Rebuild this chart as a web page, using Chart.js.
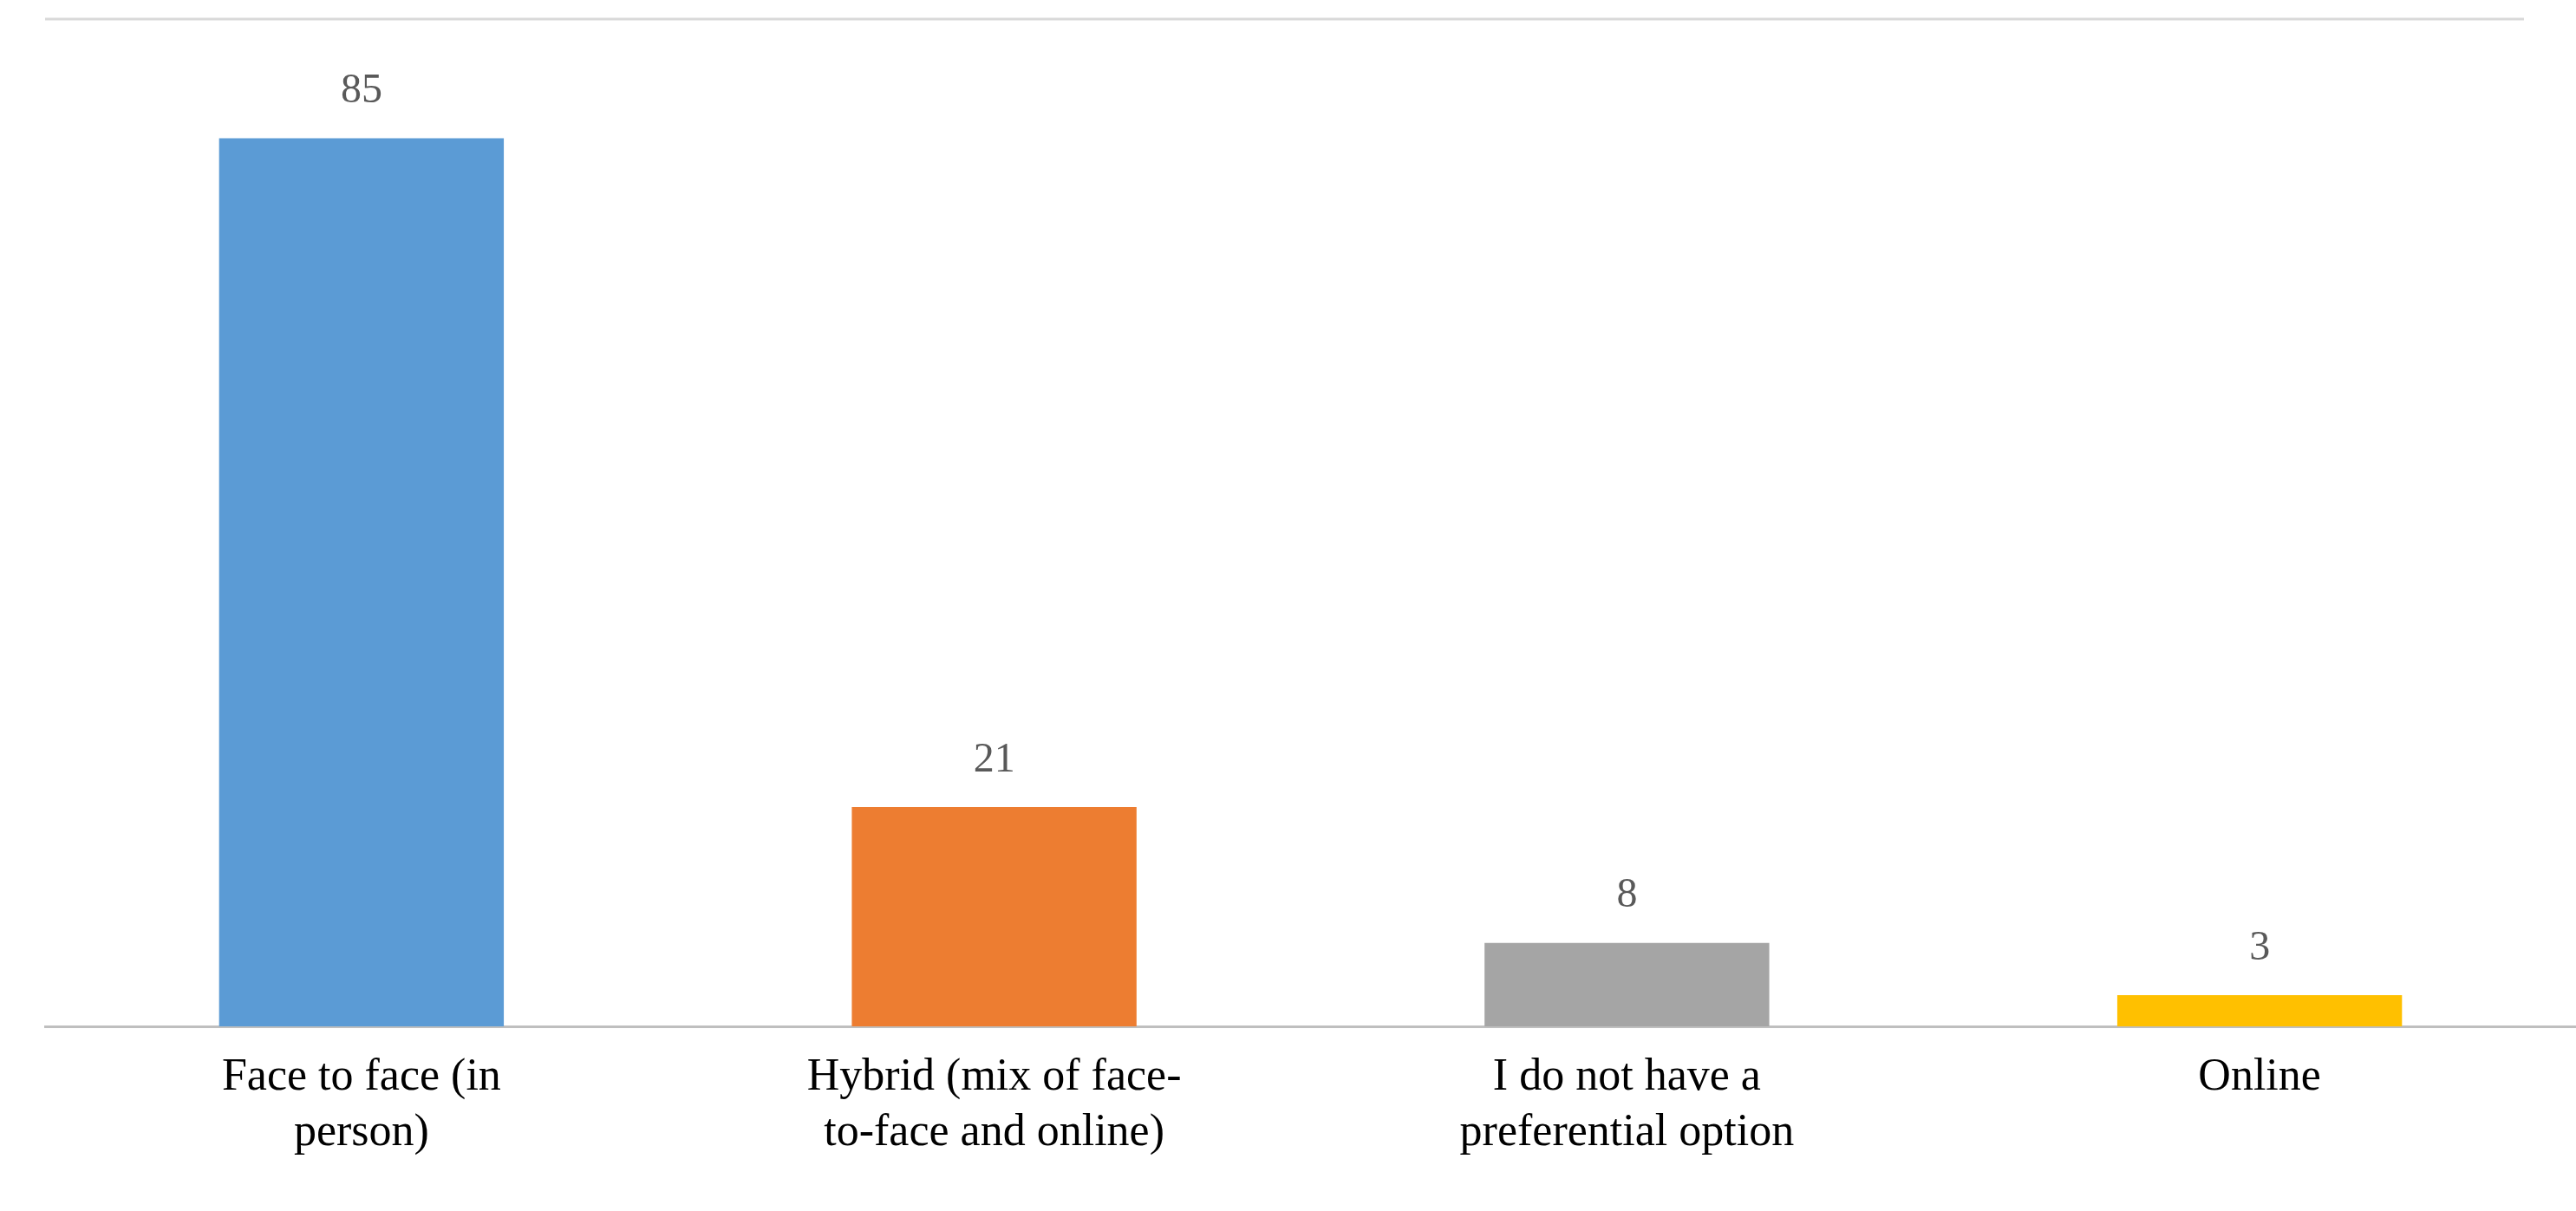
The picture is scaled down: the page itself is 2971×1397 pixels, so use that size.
<!DOCTYPE html>
<html>
<head>
<meta charset="UTF-8">
<script src="https://cdn.jsdelivr.net/npm/chart.js"></script>
<style>
  body { margin: 0; background: #fff; }
  #wrap { width: 2971px; height: 1397px; }
</style>
</head>
<body>
<div id="wrap"><canvas id="myChart"></canvas></div>
<script>
  var categorias = [
    ["Face to face (in", "person)"],
    ["Hybrid (mix of face-", "to-face and online)"],
    ["I do not have a", "preferential option"],
    ["Online"]
  ];
  var valores = [85, 21, 8, 3];
  var cores = ["#5B9BD5", "#ED7D31", "#A5A5A5", "#FFC000"];

  // rótulos em cima das barras + linha cinza no topo
  var extras = {
    id: "extras",
    afterDatasetsDraw(chart) {
      var ctx = chart.ctx;
      var area = chart.chartArea;
      ctx.save();
      ctx.strokeStyle = "#d9d9d9";
      ctx.lineWidth = 3;
      ctx.beginPath();
      ctx.moveTo(area.left, area.top);
      ctx.lineTo(area.right - 60, area.top);
      ctx.stroke();
      ctx.fillStyle = "#595959";
      ctx.font = "48px 'Liberation Serif'";
      ctx.textAlign = "center";
      ctx.textBaseline = "bottom";
      chart.getDatasetMeta(0).data.forEach(function (bar, i) {
        ctx.fillText(valores[i], bar.x, bar.y - 30);
      });
      ctx.restore();
    }
  };

  new Chart(document.getElementById("myChart"), {
    type: "bar",
    data: {
      labels: categorias,
      datasets: [{
        data: valores,
        backgroundColor: cores,
        categoryPercentage: 1,
        barPercentage: 0.45
      }]
    },
    options: {
      responsive: true,
      maintainAspectRatio: false,
      animation: false,
      layout: { padding: { left: 52, right: 0, top: 22, bottom: 30 } },
      plugins: { legend: { display: false }, tooltip: { enabled: false } },
      scales: {
        x: {
          grid: { display: false, drawTicks: false },
          border: { color: "#bfbfbf", width: 3 },
          ticks: {
            color: "#000",
            padding: 28,
            maxRotation: 0,
            font: { family: "Liberation Serif", size: 52, lineHeight: 1.22 }
          }
        },
        y: { display: false, min: 0, max: 96.4 }
      }
    },
    plugins: [extras]
  });
</script>
</body>
</html>
